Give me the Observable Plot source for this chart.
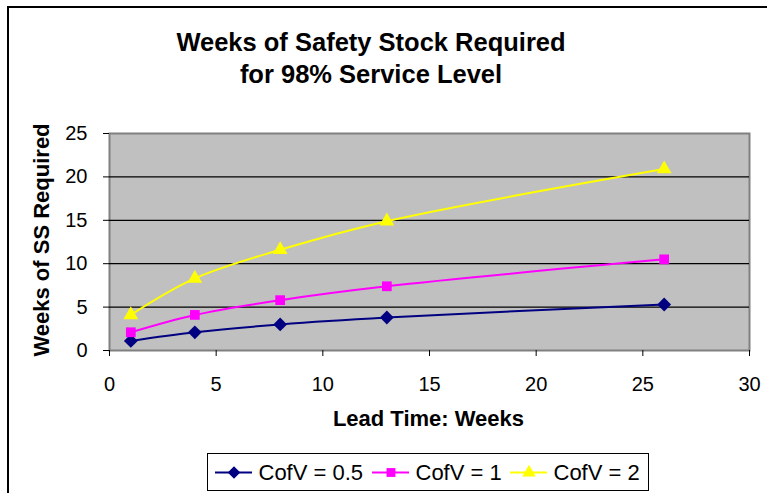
<!DOCTYPE html>
<html>
<head>
<meta charset="utf-8">
<script src="https://cdn.jsdelivr.net/npm/d3@7"></script>
<script src="https://cdn.jsdelivr.net/npm/@observablehq/plot@0.6"></script>
<style>
  html, body { margin: 0; padding: 0; background: #fff; }
  #wrap { position: relative; width: 767px; height: 493px; overflow: hidden; font-family: "Liberation Sans", Arial, sans-serif; }
  #border { position: absolute; left: 7px; top: 6px; width: 800px; height: 600px; border: 2px solid #000; box-sizing: border-box; }
  #title { position: absolute; left: 0; width: 742px; top: 26px; text-align: center; font-weight: bold; font-size: 25.5px; line-height: 32px; color: #000; }
  #xlabel { position: absolute; left: 108px; width: 641px; top: 406px; text-align: center; font-weight: bold; font-size: 22px; color: #000; }
  #ylabel { position: absolute; left: 42px; top: 240px; transform: translate(-50%, -50%) rotate(-90deg); white-space: nowrap; font-weight: bold; font-size: 22px; color: #000; }
  #legend { position: absolute; left: 207px; top: 453px; width: 442px; height: 38px; border: 1px solid #000; box-sizing: border-box; background: #fff; }
  #chart { position: absolute; left: 0; top: 0; }
</style>
</head>
<body>
<div id="wrap">
  <div id="border"></div>
  <div id="chart"></div>
  <div id="title">Weeks of Safety Stock Required<br>for 98% Service Level</div>
  <div id="xlabel">Lead Time: Weeks</div>
  <div id="ylabel">Weeks of SS Required</div>
  <div id="legend"></div>
</div>
<script>
const leadTimes = [1, 4, 8, 13, 26];
const seriesNames = ["CofV = 0.5", "CofV = 1", "CofV = 2"];
const cofv05 = [1.1, 2.1, 3.0, 3.8, 5.3];
const cofv1 = [2.1, 4.1, 5.8, 7.4, 10.5];
const cofv2 = [4.1, 8.3, 11.6, 14.9, 20.9];
const seriesColors = ["#000080", "#FF00FF", "#FFFF00"];
const xTicks = [0, 5, 10, 15, 20, 25, 30];
const yTicks = [0, 5, 10, 15, 20, 25];

// Excel-style diamond: a square rotated 45 degrees
const squareDiamond = {
  draw(context, size) {
    const h = Math.sqrt(size / 2);
    context.moveTo(0, -h);
    context.lineTo(h, 0);
    context.lineTo(0, h);
    context.lineTo(-h, 0);
    context.closePath();
  }
};
const seriesSymbols = [squareDiamond, "square", "triangle"];

const allValues = [cofv05, cofv1, cofv2];
const data = [];
allValues.forEach((vals, i) => {
  vals.forEach((v, j) => data.push({series: seriesNames[i], x: leadTimes[j], y: v}));
});

const chart = Plot.plot({
  width: 767,
  height: 493,
  marginLeft: 109,
  marginRight: 18,
  marginTop: 133,
  marginBottom: 143,
  style: {fontFamily: "Liberation Sans, Arial, sans-serif", fontSize: "20px", background: "transparent", color: "#000"},
  x: {domain: [0, 30]},
  y: {domain: [0, 25]},
  color: {domain: seriesNames, range: seriesColors},
  symbol: {domain: seriesNames, range: seriesSymbols},
  marks: [
    Plot.frame({fill: "#C0C0C0", stroke: "#808080", strokeWidth: 2}),
    Plot.ruleY(yTicks.filter(d => d > 0 && d < 25), {stroke: "#000", strokeWidth: 1.2}),
    Plot.axisX({ticks: xTicks, tickSize: 6, tickPadding: 20, label: null, stroke: "#000", fontSize: 20}),
    Plot.axisY({ticks: yTicks, tickSize: 6, tickPadding: 16, label: null, stroke: "#000", fontSize: 20}),
    Plot.line(data, {x: "x", y: "y", z: "series", stroke: "series", strokeWidth: 2, curve: "catmull-rom"}),
    Plot.dot(data, {x: "x", y: "y", symbol: "series", fill: "series", stroke: "none", r: 5.5})
  ]
});
document.getElementById("chart").appendChild(chart);

// Legend drawn with Plot in a small svg
const legendItems = seriesNames.map((s, i) => ({series: s, i}));
const legendX = [7, 164, 302];
const legend = Plot.plot({
  width: 440, height: 36, margin: 0,
  x: {domain: [0, 440], axis: null},
  y: {domain: [0, 36], axis: null},
  color: {domain: seriesNames, range: seriesColors},
  symbol: {domain: seriesNames, range: seriesSymbols},
  style: {fontFamily: "Liberation Sans, Arial, sans-serif", fontSize: "22px", background: "transparent"},
  marks: [
    Plot.ruleY(legendItems, {x1: d => legendX[d.i], x2: d => legendX[d.i] + 37, y: 18, stroke: "series", strokeWidth: 2}),
    Plot.dot(legendItems, {x: d => legendX[d.i] + 18.5, y: 18, symbol: "series", fill: "series", stroke: "none", r: 5}),
    Plot.text(legendItems, {x: d => legendX[d.i] + 43, y: 18, text: "series", textAnchor: "start", fill: "#000", fontSize: 22})
  ]
});
document.getElementById("legend").appendChild(legend);
</script>
</body>
</html>
